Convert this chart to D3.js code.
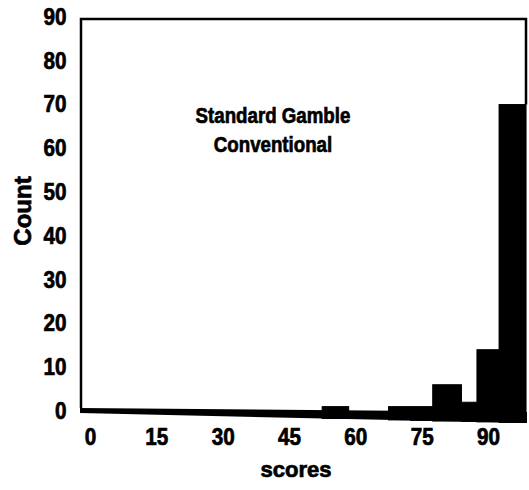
<!DOCTYPE html>
<html>
<head>
<meta charset="utf-8">
<script src="https://cdn.jsdelivr.net/npm/d3@7"></script>
<style>
	body { margin: 0; background: #fff; }
	text { font-family: 'Liberation Sans', Arial, sans-serif; font-weight: bold; fill: #000; stroke: #000; stroke-width: 0.7px; }
</style>
</head>
<body>
<svg id="chart" width="529" height="490"></svg>
<script>
// Histogram bins (score ranges and counts)
const binStart = [52.5, 67.5, 72.5, 77.5, 84, 87.5, 92.5];
const binEnd = [58.5, 72.5, 77.5, 84, 87.5, 92.5, 98.6];
const counts = [1, 1, 1, 6, 2, 14, 70];

const xTicks = [0, 15, 30, 45, 60, 75, 90];
const yTicks = [0, 10, 20, 30, 40, 50, 60, 70, 80, 90];
const titleLines = ['Standard Gamble', 'Conventional'];
const xLabel = 'scores';
const yLabel = 'Count';

const plotLeft = 81;
const plotRight = 526;

const svg = d3.select('#chart');

const x = d3.scaleLinear().domain([0, 90]).range([90, 488]);
const y = d3.scaleLinear().domain([0, 90]).range([411, 17]);

// The scanned baseline gets thicker and dips towards the right
function baseTop(px) {
	return y(0) - 3 + ((px - plotLeft) / (plotRight - plotLeft)) * 4;
}
function baseBottom(px) {
	return y(0) + 2 + ((px - plotLeft) / (plotRight - plotLeft)) * 10;
}

// Frame: left, top, right
const frameTop = y(90) + 2;
svg.append('path')
	.attr('d', `M${plotLeft},${baseTop(plotLeft)} L${plotLeft},${frameTop} L${plotRight},${frameTop} L${plotRight},${y(70)}`)
	.attr('fill', 'none')
	.attr('stroke', '#000')
	.attr('stroke-width', 2.5);

// Baseline
svg.append('path')
	.attr('d', `M${plotLeft - 1},${baseTop(plotLeft)} L${plotRight + 1},${baseTop(plotRight)} L${plotRight + 1},${baseBottom(plotRight)} L${plotLeft - 1},${baseBottom(plotLeft)} Z`)
	.attr('fill', '#000');

// Bars
const bins = counts.map((c, i) => ({ x0: binStart[i], x1: binEnd[i], count: c }));
svg.append('g')
	.selectAll('rect')
	.data(bins)
	.enter()
	.append('rect')
	.attr('x', (d) => x(d.x0))
	.attr('width', (d) => x(d.x1) - x(d.x0))
	.attr('y', (d) => y(d.count))
	.attr('height', (d) => Math.max(baseBottom(x(d.x0)), baseBottom(x(d.x1))) - y(d.count) - 0.5)
	.attr('fill', '#000')
	.attr('stroke', '#000')
	.attr('stroke-width', 1);

// Y axis labels
const yAxis = svg.append('g')
	.attr('transform', `translate(${plotLeft},0)`)
	.call(d3.axisLeft(y).tickValues(yTicks).tickSize(0).tickPadding(16));
yAxis.select('.domain').remove();
yAxis.selectAll('text')
	.style('font-size', '23px')
	.style('font-family', null)
	.attr('transform', 'scale(0.9,1)');

// X axis labels
const xAxis = svg.append('g')
	.attr('transform', `translate(0,${y(0)})`)
	.call(d3.axisBottom(x).tickValues(xTicks).tickSize(0).tickPadding(18));
xAxis.select('.domain').remove();
xAxis.selectAll('text')
	.style('font-size', '23px')
	.style('font-family', null)
	.attr('transform', 'scale(0.9,1)');

// Axis titles
svg.append('text')
	.attr('text-anchor', 'middle')
	.attr('transform', 'translate(31,211) rotate(-90)')
	.style('font-size', '24px')
	.text(yLabel);

svg.append('text')
	.attr('x', 296)
	.attr('y', 477)
	.attr('text-anchor', 'middle')
	.style('font-size', '22px')
	.text(xLabel);

// Title inside the plot
svg.append('g')
	.attr('transform', 'translate(273,0) scale(0.85,1)')
	.selectAll('text')
	.data(titleLines)
	.enter()
	.append('text')
	.attr('x', 0)
	.attr('y', (d, i) => 123 + i * 29)
	.attr('text-anchor', 'middle')
	.style('font-size', '22px')
	.text((d) => d);
</script>
</body>
</html>
